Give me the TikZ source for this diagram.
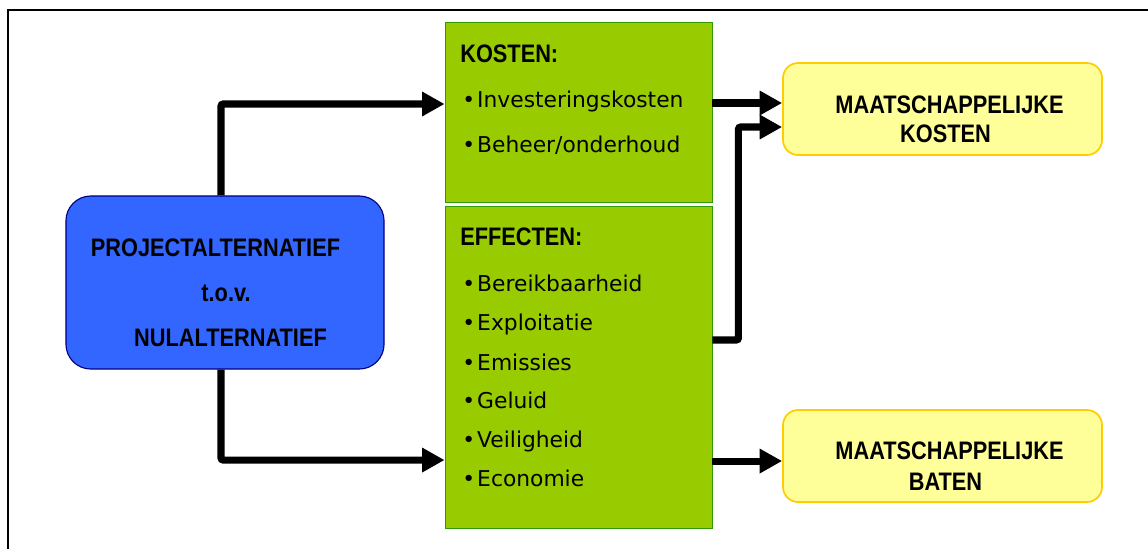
\documentclass[tikz,border=0pt]{standalone}
\usepackage{fontspec}
\setmainfont{DejaVu Sans}
\newfontfamily\headfont[FakeStretch=0.86]{Liberation Sans}
\usetikzlibrary{arrows.meta}
\usetikzlibrary{positioning}
\definecolor{projblue}{HTML}{3366FF}
\definecolor{projline}{HTML}{000080}
\definecolor{effgreen}{HTML}{99CC00}
\definecolor{effline}{HTML}{339900}
\definecolor{mkyellow}{HTML}{FFFF99}
\definecolor{mkline}{HTML}{FFCC00}

\begin{document}
\begin{tikzpicture}[x=0.025cm, y=-0.025cm,
    projbox/.style={draw=projline, fill=projblue, line width=0.8pt, rounded corners=0.62cm, minimum width=7.95cm, minimum height=4.325cm},
    effbox/.style={draw=effline, fill=effgreen, line width=0.6pt, minimum width=6.675cm},
    mkbox/.style={draw=mkline, fill=mkyellow, line width=1.2pt, rounded corners=0.38cm, minimum width=7.975cm, minimum height=2.3cm},
    headtxt/.style={inner sep=0pt, font=\headfont\bfseries\fontsize{18pt}{20pt}\selectfont},
    itemtxt/.style={inner sep=0pt, anchor=base west, font=\fontsize{15.5pt}{18pt}\selectfont},
    conn/.style={line width=5pt, rounded corners=1.5pt, -{Triangle[length=0.56cm, width=0.58cm]}}]
    \useasboundingbox (0, 0) rectangle (1148, 549);

    \draw [line width=2pt] (8, 549) -- (8, 10) -- (1148, 10);

    \node [projbox] (proj) at (225, 282.5) {};
    \node [headtxt, anchor=base] (p1) at (215.5, 256) {PROJECTALTERNATIEF};
    \node [headtxt, anchor=base] (p2) at (226, 301) {t.o.v.};
    \node [headtxt, anchor=base] (p3) at (230.5, 346) {NULALTERNATIEF};

    \node [effbox, minimum height=4.5cm] (kosten) at (578.5, 112) {};
    \node [effbox, minimum height=8.05cm] (effect) at (578.5, 367) {};

    \node [headtxt, anchor=base west] (kt) at (460, 62) {KOSTEN:};
    \node [itemtxt] (k1) at (462, 107) {\textbullet\hspace{1.5pt}Investeringskosten};
    \node [itemtxt] (k2) at (462, 152) {\textbullet\hspace{1.5pt}Beheer/onderhoud};

    \node [headtxt, anchor=base west] (et) at (460, 245) {EFFECTEN:};
    \node [itemtxt] (e1) at (462, 291) {\textbullet\hspace{1.5pt}Bereikbaarheid};
    \node [itemtxt] (e2) at (462, 330) {\textbullet\hspace{1.5pt}Exploitatie};
    \node [itemtxt] (e3) at (462, 370) {\textbullet\hspace{1.5pt}Emissies};
    \node [itemtxt] (e4) at (462, 408) {\textbullet\hspace{1.5pt}Geluid};
    \node [itemtxt] (e5) at (462, 447) {\textbullet\hspace{1.5pt}Veiligheid};
    \node [itemtxt] (e6) at (462, 486) {\textbullet\hspace{1.5pt}Economie};

    \node [mkbox] (mkost) at (942.5, 109) {};
    \node [headtxt, anchor=base] (mk1) at (949.5, 113) {MAATSCHAPPELIJKE};
    \node [headtxt, anchor=base] (mk2) at (945.5, 142) {KOSTEN};

    \node [mkbox] (mbaten) at (942.5, 456) {};
    \node [headtxt, anchor=base] (mb1) at (949.5, 459) {MAATSCHAPPELIJKE};
    \node [headtxt, anchor=base] (mb2) at (945.5, 490) {BATEN};

    \draw [conn] ([xshift=-0.1cm]proj.north) |- ([yshift=0.2cm]kosten.west);
    \draw [conn] ([xshift=-0.1cm]proj.south) |- ([yshift=-2.325cm]effect.west);
    \draw [conn] ([yshift=0.225cm]kosten.east) coordinate (ka) -- (ka -| mkost.west);
    \draw [conn] ([yshift=0.675cm]effect.east) -- ++(26, 0) |- ([yshift=-0.45cm]mkost.west);
    \draw [conn] ([yshift=-2.35cm]effect.east) coordinate (ea) -- (ea -| mbaten.west);
\end{tikzpicture}
\end{document}
